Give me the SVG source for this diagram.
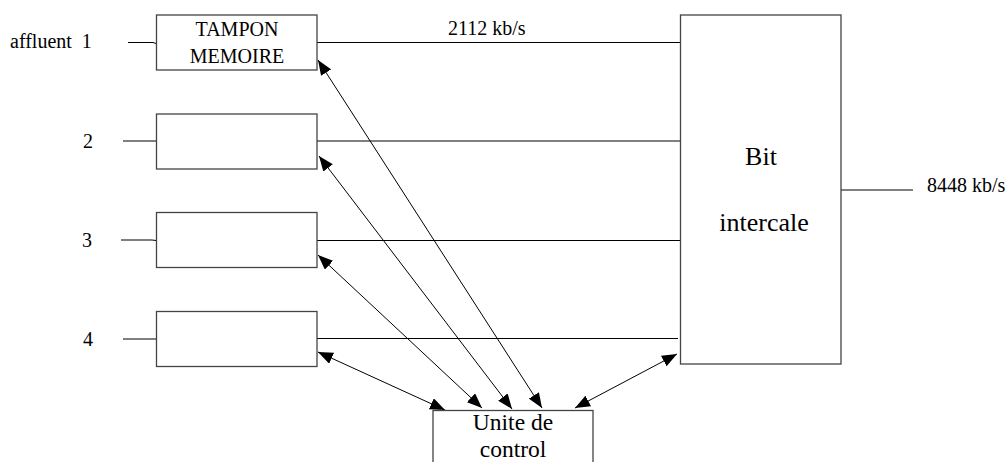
<svg xmlns="http://www.w3.org/2000/svg" width="1008" height="462" viewBox="0 0 1008 462">
<style>
.box{fill:#fff;stroke:#444;stroke-width:1.3}
.ln{fill:none;stroke:#000;stroke-width:1}
.ar{fill:none;stroke:#000;stroke-width:1;marker-start:url(#ah);marker-end:url(#ah)}
text{font-family:"Liberation Serif","Times New Roman",serif;fill:#000}
.s{font-size:20px}
.l{font-size:26px}
.u{font-size:23.5px}
.c{text-anchor:middle}
</style>
<defs>
<marker id="ah" viewBox="0 0 15 12" refX="15" refY="6" markerWidth="15" markerHeight="12" markerUnits="userSpaceOnUse" orient="auto-start-reverse">
<path d="M0,0 L15,6 L0,12 Z" fill="#000"/>
</marker>
</defs>
<rect width="1008" height="462" fill="#fff"/>
<g id="labels">
<text class="s" x="10" y="48" style="white-space:pre">affluent  1</text>
<text class="s" x="83" y="148">2</text>
<text class="s" x="82" y="247">3</text>
<text class="s" x="83" y="346">4</text>
<text class="s" x="448" y="35">2112 kb/s</text>
<text class="s" x="927" y="192">8448 kb/s</text>
</g>
<g id="connectors">
<polyline class="ln" points="128,42.5 153,42.5 156,43.5"/>
<line class="ln" x1="123" y1="141" x2="156" y2="141"/>
<polyline class="ln" points="121,240 152,240 156,240.5"/>
<line class="ln" x1="123" y1="339" x2="156" y2="339"/>
<line class="ln" x1="317" y1="42.5" x2="681" y2="42.5"/>
<line class="ln" x1="317" y1="141" x2="681" y2="141"/>
<line class="ln" x1="316" y1="240.5" x2="681" y2="240.5"/>
<line class="ln" x1="317" y1="338.5" x2="678" y2="338.5"/>
<line class="ln" x1="841" y1="190" x2="913" y2="190"/>
<line class="ar" x1="318" y1="60" x2="542" y2="408"/>
<line class="ar" x1="319" y1="156" x2="512" y2="409"/>
<line class="ar" x1="318" y1="255" x2="482" y2="408"/>
<line class="ar" x1="318" y1="352" x2="445" y2="410"/>
<line class="ar" x1="677" y1="354" x2="575" y2="408"/>
</g>
<g id="tampon1">
<rect class="box" x="156.5" y="15" width="160.5" height="55"/>
<text class="s c" x="237" y="36">TAMPON</text>
<text class="s c" x="237" y="63">MEMOIRE</text>
</g>
<g id="tampon2"><rect class="box" x="156.5" y="114" width="160.5" height="55"/></g>
<g id="tampon3"><rect class="box" x="156.5" y="212.5" width="160.5" height="55"/></g>
<g id="tampon4"><rect class="box" x="156.5" y="311.5" width="160.5" height="55"/></g>
<g id="bit">
<rect class="box" x="680.5" y="15" width="160.5" height="349"/>
<text class="l c" x="761" y="165">Bit</text>
<text class="l c" x="764" y="231">intercale</text>
</g>
<g id="unite">
<rect class="box" x="433" y="410.5" width="160" height="70"/>
<text class="u c" x="513" y="430">Unite de</text>
<text class="u c" x="513" y="457">control</text>
</g>
</svg>
